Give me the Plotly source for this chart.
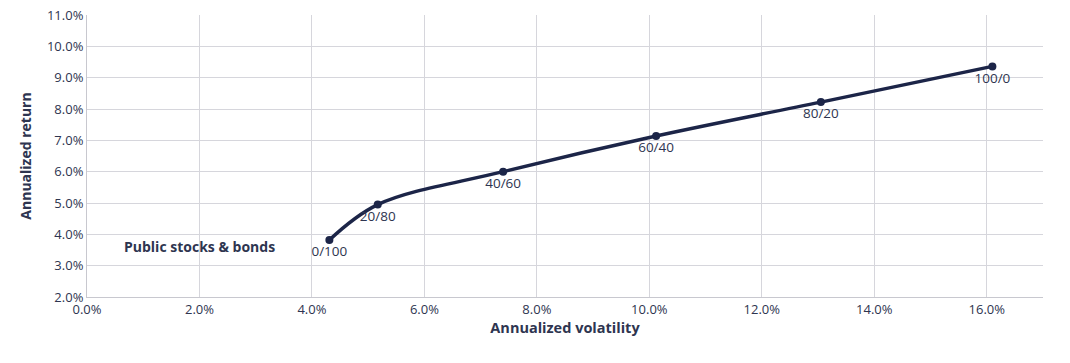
import plotly.graph_objects as go

allocations = ["0/100", "20/80", "40/60", "60/40", "80/20", "100/0"]
volatility = [4.31, 5.17, 7.40, 10.12, 13.05, 16.10]
returns = [3.82, 4.95, 6.00, 7.14, 8.22, 9.36]
x_ticks = [0, 2, 4, 6, 8, 10, 12, 14, 16]
y_ticks = [2, 3, 4, 5, 6, 7, 8, 9, 10, 11]
series_label = "Public stocks & bonds"

navy = "#1c2548"
text_col = "#2e3550"
grid = "#d6d6dc"

fig = go.Figure()
fig.add_trace(go.Scatter(
    x=volatility, y=returns, mode="lines+markers+text",
    line=dict(color=navy, width=3.5, shape="spline", smoothing=1.0),
    marker=dict(color=navy, size=8),
    text=allocations, textposition="bottom center",
    textfont=dict(family="Open Sans", size=13.5, color=text_col),
    hoverinfo="skip", showlegend=False,
))

fig.add_annotation(
    x=2.0, y=3.62, xref="x", yref="y", text="<b>" + series_label + "</b>",
    showarrow=False, xanchor="center", yanchor="middle",
    font=dict(family="Open Sans", size=14, color=text_col),
)

fig.update_layout(
    width=1070, height=363,
    margin=dict(l=87, r=27, t=15, b=66, autoexpand=False),
    paper_bgcolor="white", plot_bgcolor="white",
    font=dict(family="Open Sans", size=13, color=text_col),
)
fig.update_xaxes(
    range=[0, 17], tickvals=x_ticks,
    ticktext=[f"{v:.1f}%" for v in x_ticks],
    showgrid=True, gridcolor=grid, gridwidth=1,
    showline=True, linecolor="#c8c8cf", linewidth=1,
    zeroline=False, ticks="", automargin=False,
    title=dict(text="<b>Annualized volatility</b>", font=dict(size=14.5, color=text_col), standoff=5),
)
fig.update_yaxes(
    range=[2, 11], tickvals=y_ticks,
    ticktext=[f"{v:.1f}%" for v in y_ticks],
    showgrid=True, gridcolor=grid, gridwidth=1,
    showline=True, linecolor="#c8c8cf", linewidth=1,
    zeroline=False, ticks="", automargin=False,
    title=dict(text="<b>Annualized return</b>", font=dict(size=14, color=text_col), standoff=12),
)

fig.write_html("out.html", config={"displayModeBar": False},
               post_script="document.body.style.margin='0';")
